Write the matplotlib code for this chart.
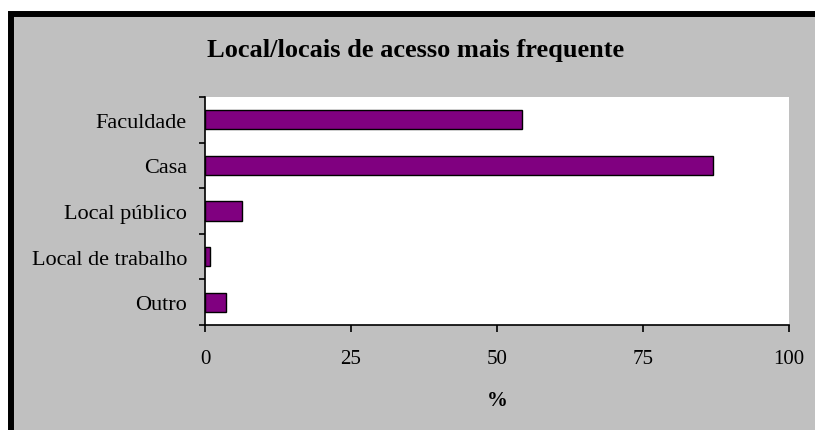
import matplotlib

matplotlib.use("Agg")

import matplotlib.pyplot as plt
from matplotlib.patches import Rectangle

categories = ["Faculdade", "Casa", "Local público", "Local de trabalho", "Outro"]
values = [54.2, 87.0, 6.3, 0.8, 3.6]
x_ticks = [0, 25, 50, 75, 100]

W, H = 815, 431
plt.rcParams["font.family"] = ["Liberation Serif", "DejaVu Serif"]

fig = plt.figure(figsize=(W / 100, H / 100), dpi=100, facecolor="white")

# gray chart frame with thick black top/left border
frame = Rectangle((11 / W, -0.2), 1.5, 1.2 - 15 / H, transform=fig.transFigure,
                  facecolor="#c0c0c0", edgecolor="black", linewidth=4.3, zorder=-10)
fig.patches.append(frame)

ax = fig.add_axes((205 / W, 1 - 326 / H, (789 - 205) / W, (326 - 98) / H))
ax.set_zorder(5)
ax.set_facecolor("white")

pos = list(range(len(categories)))
ax.barh(pos, values, height=0.42, color="#800080", edgecolor="black", linewidth=1.0)
ax.set_ylim(len(categories) - 0.5, -0.5)
ax.set_xlim(0, 100)

ax.set_yticks(pos, categories, fontsize=16)
ax.set_yticks([p - 0.5 for p in pos] + [len(pos) - 0.5], minor=True)
ax.tick_params(axis="y", which="major", length=0, pad=13)
ax.tick_params(axis="y", which="minor", length=4.5, width=1.2, direction="out")
ax.set_xticks(x_ticks, [str(t) for t in x_ticks], fontsize=15)
ax.tick_params(axis="x", length=5, width=1.2, direction="out", pad=12)

for side in ("top", "right"):
    ax.spines[side].set_visible(False)
for side in ("left", "bottom"):
    ax.spines[side].set_linewidth(1.2)

ax.set_xlabel("%", fontsize=15, fontweight="bold", labelpad=16)
fig.text(416 / W, 1 - 51 / H, "Local/locais de acesso mais frequente", fontsize=19,
         fontweight="bold", ha="center", va="center")

fig.savefig("out.png", dpi=100, facecolor="white")
